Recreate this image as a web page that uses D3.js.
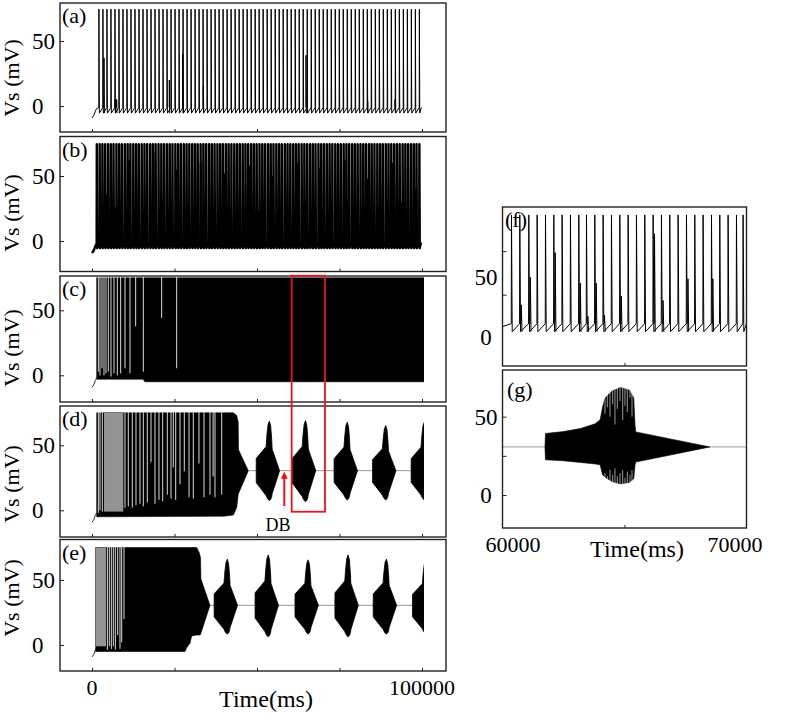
<!DOCTYPE html>
<html lang="en">
<head>
<meta charset="UTF-8">
<script src="https://d3js.org/d3.v7.min.js"></script>
<title>Vs traces</title>
<style>
  body { margin: 0; background: #fff; }
  text { font-family: "Liberation Serif", "Times New Roman", serif; fill: #000; }
</style>
</head>
<body>
<div id="vis"></div>
<script>
// ---------- data ----------
// spike times (s)
var spikesA = [2.10,3.31,4.53,5.74,6.96,8.17,9.38,10.60,11.81,13.02,14.24,15.45,16.67,17.88,19.09,20.31,
  21.52,22.73,23.95,25.16,26.38,27.59,28.80,30.02,31.23,32.44,33.66,34.87,36.09,37.30,38.51,39.73,
  40.94,42.15,43.37,44.58,45.80,47.01,48.22,49.44,50.65,51.86,53.08,54.29,55.51,56.72,57.93,59.15,
  60.36,61.57,62.79,64.00,65.22,66.43,67.64,68.86,70.07,71.28,72.50,73.71,74.93,76.14,77.35,78.57,
  79.78,80.99,82.21,83.42,84.64,85.85,87.06,88.28,89.49,90.70,91.92,93.13,94.35,95.56,96.77,97.99,99.20];
// [time s, peak mV] of the short spikes
var partialA = [[3.64,37],[6.97,5],[7.47,5],[23.43,20],[27.47,40],[33.74,15],[64.85,39],[83.54,4],[91.82,5]];

var spikesB = [1.45,2.32,3.15,3.98,4.86,5.70,6.52,7.41,8.25,9.08,9.96,10.80,11.63,12.51,13.35,14.18,
  15.06,15.90,16.73,17.62,18.45,19.28,20.16,21.00,21.84,22.71,23.55,24.38,25.26,26.10,26.93,27.81,
  28.65,29.49,30.36,31.20,32.03,32.91,33.75,34.58,35.47,36.30,37.14,38.01,38.85,39.68,40.57,41.40,
  42.24,43.11,43.95,44.79,45.66,46.50,47.33,48.22,49.05,49.89,50.76,51.60,52.43,53.32,54.15,54.99,
  55.86,56.70,57.53,58.42,59.25,60.09,60.96,61.80,62.63,63.52,64.35,65.19,66.06,66.90,67.73,68.62,
  69.45,70.29,71.16,72.00,72.83,73.72,74.55,75.39,76.26,77.10,77.93,78.82,79.65,80.49,81.36,82.20,
  83.03,83.92,84.75,85.59,86.46,87.30,88.13,89.02,89.85,90.69,91.56,92.40,93.23,94.12,94.95,95.79,
  96.66,97.50,98.33,99.20];
var partialB = [[4.60,36],[7.00,26],[11.20,62],[14.10,12],[18.60,68],[21.30,30],[25.80,55],[28.40,22],
  [33.00,60],[35.60,26],[40.20,52],[43.00,18],[47.60,58],[50.20,24],[54.80,50],[57.50,20],[62.00,60],
  [64.70,30],[69.20,56],[71.90,22],[76.50,62],[79.10,28],[83.70,48],[86.40,18],[90.90,60],[93.60,30],[98.20,40]];

// membrane trace before the first spike [ms, mV]
var preTrace = [[0,-9.2],[500,-7.5],[1000,-4],[1400,-2]];

// dense firing drawn as envelope [ms, top mV, bottom mV]
var envC = [[1420,75,-3],[15500,75,-3],[16000,75,-5],[100600,75,-5]];
// white gaps between spikes [ms, lowest mV of the gap]
var gapsC = [[1920,2.8],[2424,0],[3030,5.4],[3636,0],[4242,1.5],[4950,2.8],[5757,-1],[6667,1.5],[7676,0],
  [8686,1.5],[10000,5.4],[11515,1.5],[13232,37.6],[15555,2.8],[21110,44],[25650,5.4]];

var envD = [[1420,75,-5],[40000,75,-4.5],[42830,75,-3.6],[43840,73,2],[44300,68,12],[44400,46.6,13],[47370,30.4,30.4]];
var greyD = [3640, 9490];
var gapsD = [[1920,-2],[2420,0],[3130,-1],[10000,2],[11000,3],[12210,2],[13330,4],[14545,5],[15545,3],
  [16760,6],[17880,37],[19090,5],[20300,8],[21420,7],[22820,12],[23940,9],[24640,33],[25360,8],[26670,20],
  [27970,30],[29400,10],[30700,9],[32420,36],[33940,10],[35760,12],[36700,26],[37270,10],[39300,12]];
var restD = [47370, 100600, 30.5];

var envE = [[1110,75,-5],[28180,75,-5],[28700,75,-2],[29700,75,1.3],[30200,75,7],[31720,75,7.6],[32500,71,7.6],
  [32900,67,8],[33000,50.8,9],[35760,30.5,30.5]];
var greyE = [1110, 4240];
var gapsE = [[4650,-3.8],[5250,-1],[5860,-3],[6460,-1],[7070,-3.5],[7780,7.6],[8480,-3],[9000,2],[9700,20]];
var restE = [35760, 100600, 30.5];

// burst shape as seen in the 100 s overviews [ms after onset, top mV, bottom mV]
var burstShape = [[0,30.5,30.5],[30,40,21],[3000,49,11],[3250,58,9.5],[3600,66,8],[4000,68.7,7.1],
  [4400,65,8],[4700,55,10],[4850,47,12.5],[7100,30.5,30.5]];
// burst onsets, tops and bottoms in (d) and (e)
var burstsD = [49750, 60700, 73350, 85000, 96700];
var peaksD = [68.6, 69, 67.8, 65.2, 67.8];
var troughsD = [7.5, 6.7, 8, 8, 8];
var burstsE = [37000, 49400, 61500, 73600, 85200, 97100];
var peaksE = [66, 69.3, 65.5, 69.3, 66, 64.7];
var troughsE = [8.4, 6.3, 8.4, 6.3, 8.4, 8.9];

// (g): the burst of (d) between 60 and 70 s [ms, top mV, bottom mV]
var burstG = [[61740,30.7,30.7],[61760,39.3,22.5],[62500,40.5,21.8],[63200,42.5,20.8],[63800,45.5,19.8],
  [64000,48,19.3],[64100,56,13],[64200,62,11.4],[64500,66.5,8.5],[64830,68.7,7.1],[65200,67,8],
  [65380,62,10.3],[65430,45,19],[65460,40.3,21],[68500,30.7,30.7]];
// unresolved spikes inside the burst of (g) [ms, upper gap end, lower gap end]
var gapsG = [[64200,52,14],[64295,56,12],[64406,50,16],[64516,58,13],[64610,45,17],[64705,55,12],
  [64816,60,14],[64926,48,16],[65020,57,11],[65115,53,15],[65225,62,13],[65307,50,16]];
var restG = [60000, 70000, 30.7];

// (f): spikes of (c) between 60 and 70 s (ms)
var spikesF = [60368,60709,61078,61420,61762,62103,62443,62785,63127,63442,63783,64124,64466,64808,
  65149,65491,65832,66173,66515,66856,67197,67540,67881,68221,68565,68905,69246,69589,69860];
var partialF = [[60770,13],[61140,32],[62160,49],[63190,28],[63500,5],[63840,28],[64180,6],[64870,19],
  [66230,62],[66580,16],[67600,31],[68620,31]];

var xTicksL = [0, 25000, 50000, 75000, 100000];
var xLabelsL = [0, 100000];
var xTicksR = [65000];
var xLabelsR = [60000, 70000];
var yLabels = [0, 50];
var redBoxT = [60500, 70600], redBoxV = [76.6, -1.1];
var dbArrow = {t: 58270, from: 3.3, to: 29.7};

// ---------- layout ----------
var svg = d3.select("#vis").append("svg").attr("width", 787).attr("height", 715);
var xL = d3.scaleLinear().domain([0, 100000]).range([92, 422]);
var xR = d3.scaleLinear().domain([60000, 70000]).range([502.5, 746.5]);
var leftX = [60, 446];

var panels = {
  a: {top: 3, bottom: 132, y0: 106, labY: 78},
  b: {top: 136.5, bottom: 271.5, y0: 241, labY: 213},
  c: {top: 276, bottom: 402, y0: 375.3, labY: 348},
  d: {top: 406, bottom: 537, y0: 510.3, labY: 484},
  e: {top: 539.5, bottom: 671, y0: 645, labY: 598}
};
Object.keys(panels).forEach(function(k){
  var p = panels[k];
  p.y = d3.scaleLinear().domain([0, 50]).range([p.y0, p.y0 - 65]);
});
var yF = d3.scaleLinear().domain([0, 50]).range([323.7, 251.2]);
var yFlab = d3.scaleLinear().domain([0, 50]).range([337, 277]);
var yG = d3.scaleLinear().domain([0, 50]).range([495, 416.7]);

var defs = svg.append("defs");
defs.append("clipPath").attr("id", "clipL").append("rect")
  .attr("x", leftX[0]).attr("y", 0).attr("width", xL(100600) - leftX[0]).attr("height", 715);
defs.append("clipPath").attr("id", "clipG").append("rect")
  .attr("x", xR(60000)).attr("y", 370).attr("width", xR(70000) - xR(60000)).attr("height", 158);
defs.append("clipPath").attr("id", "clipF").append("rect")
  .attr("x", xR(60000)).attr("y", 207).attr("width", xR(70000) - xR(60000)).attr("height", 159);

function lineOf(x, y) { return d3.line().x(function(d){ return x(d[0]); }).y(function(d){ return y(d[1]); }); }
function areaOf(x, y) {
  return d3.area().x(function(d){ return x(d[0]); })
    .y1(function(d){ return y(d[1]); }).y0(function(d){ return y(d[2]); });
}

// spike train as a polyline: ramp -> peak -> trough
function trainPoints(times, pre, tEnd, w, w2, peak, trough, ramp) {
  var pts = pre.slice();
  times.forEach(function(t){ pts.push([t - w, ramp], [t, peak], [t + w2, trough]); });
  pts.push([tEnd, ramp]);
  return pts;
}

function drawTrain(g, x, y, times, partial, opt) {
  var pts = trainPoints(times, opt.pre, opt.end, opt.w, opt.w2, opt.peak, -5.5, opt.ramp);
  g.append("path").datum(pts).attr("d", lineOf(x, y))
    .attr("fill", "none").attr("stroke", "#000").attr("stroke-width", opt.sw).attr("stroke-linejoin", "round");
  g.selectAll(null).data(partial).enter().append("path")
    .attr("d", function(d){ return lineOf(x, y)([[d[0] - opt.w, opt.ramp], [d[0], d[1]], [d[0] + opt.w2, -5.5]]); })
    .attr("fill", "none").attr("stroke", "#000").attr("stroke-width", opt.sw);
}

function drawDense(g, y, env, gaps, grey) {
  g.append("path").datum(preTrace).attr("d", lineOf(xL, y))
    .attr("fill", "none").attr("stroke", "#333").attr("stroke-width", 1);
  g.append("path").datum(env).attr("d", areaOf(xL, y))
    .attr("fill", "#000").attr("stroke", "#000").attr("stroke-width", 0.6);
  if (grey) {
    g.append("rect").attr("x", xL(grey[0])).attr("width", xL(grey[1]) - xL(grey[0]))
      .attr("y", y(75)).attr("height", y(-1) - y(75)).attr("fill", "#939393");
  }
  g.selectAll(null).data(gaps).enter().append("line")
    .attr("x1", function(d){ return xL(d[0]); }).attr("x2", function(d){ return xL(d[0]); })
    .attr("y1", y(76)).attr("y2", function(d){ return y(d[1]); })
    .attr("stroke", "#fff").attr("stroke-width", 1).attr("stroke-opacity", 0.85);
}

function drawRest(g, x, y, r) {
  g.append("line").attr("x1", x(r[0])).attr("x2", x(r[1])).attr("y1", y(r[2])).attr("y2", y(r[2]))
    .attr("stroke", "#999").attr("stroke-width", 1);
}

function drawBursts(g, y, starts, peaks, troughs) {
  var base = burstShape[0][1];
  var topMax = d3.max(burstShape, function(d){ return d[1]; });
  var botMin = d3.min(burstShape, function(d){ return d[2]; });
  starts.forEach(function(s, i){
    var st = (peaks[i] - base) / (topMax - base), sb = (base - troughs[i]) / (base - botMin);
    var pts = burstShape.map(function(d){
      return [s + d[0], base + (d[1] - base) * st, base - (base - d[2]) * sb];
    });
    g.append("path").datum(pts).attr("d", areaOf(xL, y))
      .attr("fill", "#000").attr("stroke", "#000").attr("stroke-width", 0.8);
  });
}

function frame(x0, x1, top, bottom) {
  svg.append("rect").attr("x", x0).attr("y", top).attr("width", x1 - x0).attr("height", bottom - top)
    .attr("fill", "none").attr("stroke", "#222").attr("stroke-width", 1.4);
}

function ticks(x, y, xt, yt, left, bottom) {
  svg.append("g").attr("transform", "translate(0," + bottom + ")")
    .call(d3.axisBottom(x).tickValues(xt).tickSize(-3).tickFormat(""))
    .call(function(s){ s.select(".domain").remove(); s.selectAll("line").attr("stroke", "#222"); });
  svg.append("g").attr("transform", "translate(" + left + ",0)")
    .call(d3.axisLeft(y).tickValues(yt).tickSize(-4).tickFormat(""))
    .call(function(s){ s.select(".domain").remove(); s.selectAll("line").attr("stroke", "#222"); });
}

// ---------- left column ----------
var trainOpt = {pre: preTrace, end: 99800, w: 40, w2: 120, peak: 74.5, ramp: -1.2, sw: 1};
drawTrain(svg.append("g").attr("clip-path", "url(#clipL)"), xL, panels.a.y, spikesA.map(function(s){ return s * 1000; }),
  partialA.map(function(d){ return [d[0] * 1000, d[1]]; }), trainOpt);

var trainOptB = Object.assign({}, trainOpt, {sw: 2.4, end: 99700});
drawTrain(svg.append("g").attr("clip-path", "url(#clipL)"), xL, panels.b.y, spikesB.map(function(s){ return s * 1000; }),
  partialB.map(function(d){ return [d[0] * 1000, d[1]]; }), trainOptB);

drawDense(svg.append("g").attr("clip-path", "url(#clipL)"), panels.c.y, envC, gapsC, null);

var gD = svg.append("g").attr("clip-path", "url(#clipL)");
drawRest(gD, xL, panels.d.y, restD);
drawDense(gD, panels.d.y, envD, gapsD, greyD);
drawBursts(gD, panels.d.y, burstsD, peaksD, troughsD);

var gE = svg.append("g").attr("clip-path", "url(#clipL)");
drawRest(gE, xL, panels.e.y, restE);
drawDense(gE, panels.e.y, envE, gapsE, greyE);
drawBursts(gE, panels.e.y, burstsE, peaksE, troughsE);

["a", "b", "c", "d", "e"].forEach(function(k){
  var p = panels[k];
  frame(leftX[0], leftX[1], p.top, p.bottom);
  ticks(xL, p.y, xTicksL, [0, 50], leftX[0], p.bottom);
  svg.selectAll(null).data(yLabels).enter().append("text")
    .attr("x", 32).attr("y", function(d){ return p.y(d); }).attr("dy", "0.35em")
    .attr("font-size", 23).text(function(d){ return d; });
  svg.append("text").attr("transform", "translate(19," + p.labY + ") rotate(-90)")
    .attr("text-anchor", "middle").attr("font-size", 22).text("Vs (mV)");
  svg.append("text").attr("x", 62).attr("y", p.top + 20).attr("font-size", 22).text("(" + k + ")");
});

svg.selectAll(null).data(xLabelsL).enter().append("text")
  .attr("x", function(d){ return xL(d); }).attr("y", 695).attr("text-anchor", "middle")
  .attr("font-size", 22).text(function(d){ return d; });
svg.append("text").attr("x", 266).attr("y", 707).attr("text-anchor", "middle")
  .attr("font-size", 24).text("Time(ms)");

// red box spanning (c) and (d), DB arrow
svg.append("rect").attr("x", xL(redBoxT[0])).attr("y", panels.c.y(redBoxV[0]))
  .attr("width", xL(redBoxT[1]) - xL(redBoxT[0])).attr("height", panels.d.y(redBoxV[1]) - panels.c.y(redBoxV[0]))
  .attr("fill", "none").attr("stroke", "#e8141c").attr("stroke-width", 1.8);
var ax = xL(dbArrow.t), ayTip = panels.d.y(dbArrow.to);
svg.append("line").attr("x1", ax).attr("x2", ax).attr("y1", panels.d.y(dbArrow.from)).attr("y2", ayTip + 5)
  .attr("stroke", "#e8141c").attr("stroke-width", 2);
svg.append("path").attr("d", "M" + (ax - 3.5) + "," + (ayTip + 7) + "L" + ax + "," + ayTip + "L" + (ax + 3.5) + "," + (ayTip + 7) + "Z")
  .attr("fill", "#e8141c");
svg.append("text").attr("x", 278).attr("y", 531).attr("text-anchor", "middle").attr("font-size", 18).text("DB");

// ---------- right column ----------
var gF = svg.append("g").attr("clip-path", "url(#clipF)");
drawTrain(gF, xR, yF, spikesF, partialF, {pre: [[60000, -2]], end: 70000, w: 10, w2: 30, peak: 75, ramp: 0, sw: 1});
frame(xR(60000), xR(70000), 207, 366);
ticks(xR, yF, xTicksR, [50, 20], xR(60000), 366);
svg.selectAll(null).data(yLabels).enter().append("text")
  .attr("x", 486).attr("y", function(d){ return yFlab(d); }).attr("dy", "0.35em").attr("text-anchor", "middle")
  .attr("font-size", 23).text(function(d){ return d; });
svg.append("text").attr("x", 505).attr("y", 227).attr("font-size", 22).text("(f)");

var gG = svg.append("g").attr("clip-path", "url(#clipG)");
drawRest(gG, xR, yG, restG);
gG.append("path").datum(burstG).attr("d", areaOf(xR, yG)).attr("fill", "#000").attr("stroke", "#000").attr("stroke-width", 0.6);
gG.selectAll(null).data(gapsG).enter().append("line")
  .attr("x1", function(d){ return xR(d[0]); }).attr("x2", function(d){ return xR(d[0]); })
  .attr("y1", yG(70)).attr("y2", function(d){ return yG(d[1]); })
  .attr("stroke", "#fff").attr("stroke-width", 1).attr("stroke-opacity", 0.6);
gG.selectAll(null).data(gapsG).enter().append("line")
  .attr("x1", function(d){ return xR(d[0]); }).attr("x2", function(d){ return xR(d[0]); })
  .attr("y1", yG(6)).attr("y2", function(d){ return yG(d[2]); })
  .attr("stroke", "#fff").attr("stroke-width", 1).attr("stroke-opacity", 0.6);
frame(xR(60000), xR(70000), 370, 528);
ticks(xR, yG, xTicksR, [0, 25, 50], xR(60000), 528);
svg.selectAll(null).data(yLabels).enter().append("text")
  .attr("x", 486).attr("y", function(d){ return yG(d); }).attr("dy", "0.35em").attr("text-anchor", "middle")
  .attr("font-size", 23).text(function(d){ return d; });
svg.append("text").attr("x", 507).attr("y", 397).attr("font-size", 22).text("(g)");

var xRlab = d3.scaleLinear().domain([60000, 70000]).range([513, 735]);
svg.selectAll(null).data(xLabelsR).enter().append("text")
  .attr("x", function(d){ return xRlab(d); }).attr("y", 552).attr("text-anchor", "middle")
  .attr("font-size", 22).text(function(d){ return d; });
svg.append("text").attr("x", 637).attr("y", 557).attr("text-anchor", "middle")
  .attr("font-size", 24).text("Time(ms)");
</script>
</body>
</html>
